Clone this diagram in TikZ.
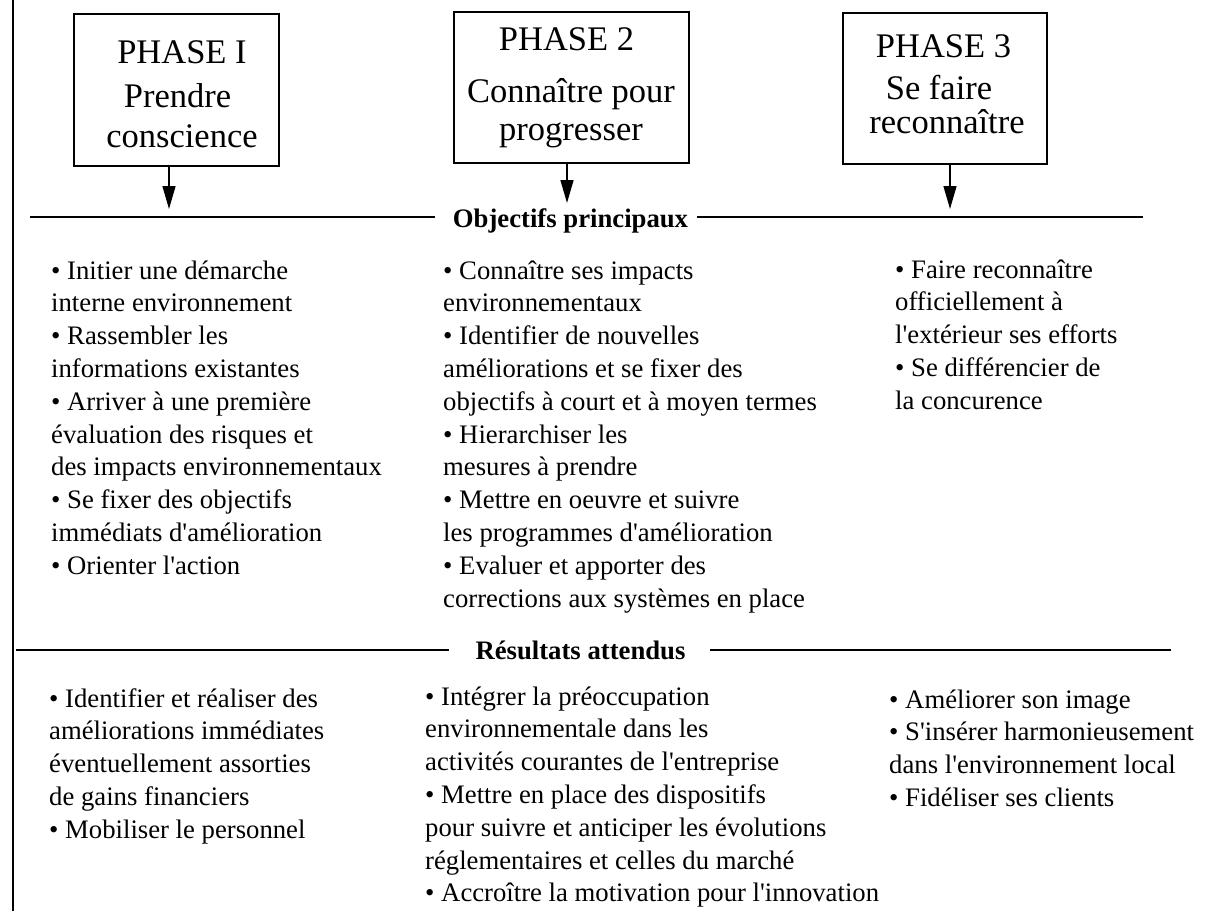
\documentclass[tikz,border=0pt]{standalone}
\usepackage{fontspec}
\setmainfont{Liberation Serif}[Ligatures=TeXOff]
\usetikzlibrary{arrows.meta}
\newcommand\bodyfont{\fontsize{26.7}{32.8}\selectfont}
\newcommand\boxfont{\fontsize{34.5}{40}\selectfont}
\begin{document}
\begin{tikzpicture}[x=1pt,y=-1pt,
  boxst/.style={draw, line width=1.6pt, inner sep=0pt},
  bt/.style={font=\boxfont, anchor=base, inner sep=0pt},
  body/.style={font=\bodyfont, anchor=north west, inner sep=0pt, align=left},
  lbl/.style={font=\bodyfont\bfseries, anchor=base, inner sep=0pt},
  rule/.style={line width=1.6pt},
  arr/.style={line width=1.4pt, -{Triangle[width=13pt,length=23pt]}}]
\useasboundingbox (0,0) rectangle (1215,911);
% left border
\coordinate (bt) at (13,0);
\coordinate (bb) at (13,911);
\draw[rule] (bt) -- (bb);
% boxes
\node[boxst, minimum width=205pt, minimum height=152pt] (b1) at (176.5,90) {};
\node[boxst, minimum width=235pt, minimum height=151pt] (b2) at (571.5,87.5) {};
\node[boxst, minimum width=204pt, minimum height=151pt] (b3) at (945,88.5) {};
\node[bt] (t1a) at (182,63) {PHASE I};
\node[bt] (t1b) at (177.5,107) {Prendre};
\node[bt] (t1c) at (182,147) {conscience};
\node[bt] (t2a) at (566.5,50) {PHASE 2};
\node[bt] (t2b) at (571,102) {Connaître pour};
\node[bt] (t2c) at (571,140) {progresser};
\node[bt] (t3a) at (943.5,57) {PHASE 3};
\node[bt] (t3b) at (939,99) {Se faire};
\node[bt] (t3c) at (947,133) {reconnaître};
% arrows
\coordinate (a1) at (169,209);
\coordinate (a2) at (567,203);
\coordinate (a3) at (950,209);
\draw[arr] (b1.south -| a1) -- (a1);
\draw[arr] (b2.south -| a2) -- (a2);
\draw[arr] (b3.south -| a3) -- (a3);
% first rule
\node[lbl] (obj) at (570.5,227) {Objectifs principaux};
\coordinate (l1a) at (30,217);
\coordinate (l1b) at (435,217);
\coordinate (l1c) at (697,217);
\coordinate (l1d) at (1143,217);
\draw[rule] (l1a) -- (l1b);
\draw[rule] (l1c) -- (l1d);
% objectives
\node[body] (o1) at (51,256) {\strut• Initier une démarche\\interne environnement\\• Rassembler les\\informations existantes\\• Arriver à une première\\évaluation des risques et\\des impacts environnementaux\\• Se fixer des objectifs\\immédiats d'amélioration\\• Orienter l'action};
\node[body] (o2) at (443,256) {\strut• Connaître ses impacts\\environnementaux\\• Identifier de nouvelles\\améliorations et se fixer des\\objectifs à court et à moyen termes\\• Hierarchiser les\\mesures à prendre\\• Mettre en oeuvre et suivre\\les programmes d'amélioration\\• Evaluer et apporter des\\corrections aux systèmes en place};
\node[body] (o3) at (895,255) {\strut• Faire reconnaître\\officiellement à\\l'extérieur ses efforts\\• Se différencier de\\la concurence};
% second rule
\node[lbl] (res) at (580.5,659) {Résultats attendus};
\coordinate (l2a) at (16,650);
\coordinate (l2b) at (449,650);
\coordinate (l2c) at (710,650);
\coordinate (l2d) at (1171,650);
\draw[rule] (l2a) -- (l2b);
\draw[rule] (l2c) -- (l2d);
% results
\node[body] (r1) at (49,684) {\strut• Identifier et réaliser des\\améliorations immédiates\\éventuellement assorties\\de gains financiers\\• Mobiliser le personnel};
\node[body] (r2) at (425,682) {\strut• Intégrer la préoccupation\\environnementale dans les\\activités courantes de l'entreprise\\• Mettre en place des dispositifs\\pour suivre et anticiper les évolutions\\réglementaires et celles du marché\\• Accroître la motivation pour l'innovation};
\node[body] (r3) at (889,685) {\strut• Améliorer son image\\• S'insérer harmonieusement\\dans l'environnement local\\• Fidéliser ses clients};
\end{tikzpicture}
\end{document}
